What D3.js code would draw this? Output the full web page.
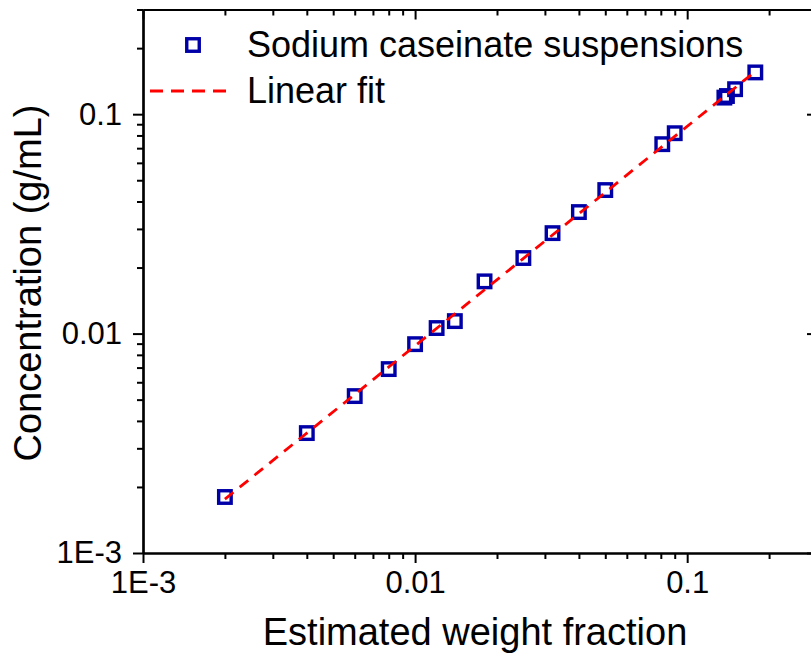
<!DOCTYPE html>
<html lang="en">
<head>
<meta charset="utf-8">
<title>Concentration vs weight fraction</title>
<script src="https://d3js.org/d3.v7.min.js"></script>
<style>
  body { margin: 0; background: #fff; }
  svg { display: block; font-family: Arial, "Liberation Sans", sans-serif; }
</style>
</head>
<body>
<div id="chart"></div>
<script>
// data
var weightFraction = [0.002, 0.004, 0.006, 0.008, 0.01, 0.012, 0.014, 0.018, 0.025, 0.032, 0.04, 0.05, 0.081, 0.09, 0.137, 0.140, 0.150, 0.178];
var concentration  = [0.0018, 0.00352, 0.00519, 0.00689, 0.00895, 0.0106, 0.0114, 0.0173, 0.0221, 0.0287, 0.0358, 0.0451, 0.073, 0.0819, 0.119, 0.121, 0.130, 0.155];
var fitSlope = 0.88;            // y = fitSlope * x
var fitRange = [0.002, 0.178];
var majorTicks = [0.001, 0.01, 0.1];
var majorLabels = ["1E-3", "0.01", "0.1"];
var seriesNames = ["Sodium caseinate suspensions", "Linear fit"];

var w = 811, h = 664;
var svg = d3.select("#chart").append("svg")
  .attr("width", w)
  .attr("height", h);

var x = d3.scaleLog().domain([0.001, 0.3]).range([143, 817]);
var y = d3.scaleLog().domain([0.001, 0.3]).range([553, 9.5]);

var minorX = x.ticks().filter(function(d) { return majorTicks.indexOf(+d.toPrecision(1)) < 0; });
var minorY = y.ticks().filter(function(d) { return majorTicks.indexOf(+d.toPrecision(1)) < 0; });
var fmt = function(d) { return majorLabels[majorTicks.indexOf(d)]; };

function styleAxis(g) {
  g.selectAll("path").attr("stroke", "#000").attr("stroke-width", 2.2);
  g.selectAll("line").attr("stroke", "#000").attr("stroke-width", 2);
  g.selectAll("text").attr("fill", "#000").style("font-size", "31px");
}

// bottom
svg.append("g").attr("transform", "translate(0," + y.range()[0] + ")")
  .call(d3.axisBottom(x).tickValues(minorX).tickSize(6).tickFormat("").tickSizeOuter(0)).call(styleAxis);
svg.append("g").attr("transform", "translate(0," + y.range()[0] + ")")
  .call(d3.axisBottom(x).tickValues(majorTicks).tickSize(10).tickFormat(fmt).tickPadding(8).tickSizeOuter(0)).call(styleAxis);
// top
svg.append("g").attr("transform", "translate(0," + y.range()[1] + ")")
  .call(d3.axisTop(x).tickValues(minorX).tickSize(-6).tickFormat("").tickSizeOuter(0)).call(styleAxis);
svg.append("g").attr("transform", "translate(0," + y.range()[1] + ")")
  .call(d3.axisTop(x).tickValues(majorTicks).tickSize(-10).tickFormat("").tickSizeOuter(0)).call(styleAxis);
// left
svg.append("g").attr("transform", "translate(" + x.range()[0] + ",0)")
  .call(d3.axisLeft(y).tickValues(minorY).tickSize(6).tickFormat("").tickSizeOuter(0)).call(styleAxis);
svg.append("g").attr("transform", "translate(" + x.range()[0] + ",0)")
  .call(d3.axisLeft(y).tickValues(majorTicks).tickSize(10).tickFormat(fmt).tickPadding(11).tickSizeOuter(0)).call(styleAxis);
// right
svg.append("g").attr("transform", "translate(" + x.range()[1] + ",0)")
  .call(d3.axisRight(y).tickValues(minorY).tickSize(-6).tickFormat("").tickSizeOuter(0)).call(styleAxis);
svg.append("g").attr("transform", "translate(" + x.range()[1] + ",0)")
  .call(d3.axisRight(y).tickValues(majorTicks).tickSize(-10).tickFormat("").tickSizeOuter(0)).call(styleAxis);

// points
var pts = weightFraction.map(function(d, i) { return [d, concentration[i]]; });
var sq = 12.5;
svg.selectAll(".pt")
  .data(pts)
  .enter().append("rect")
    .attr("class", "pt")
    .attr("x", function(d) { return x(d[0]) - sq / 2; })
    .attr("y", function(d) { return y(d[1]) - sq / 2; })
    .attr("width", sq)
    .attr("height", sq)
    .attr("fill", "none")
    .attr("stroke", "#0000a8")
    .attr("stroke-width", 3.4);

// fit line
svg.append("line")
  .attr("x1", x(fitRange[0])).attr("y1", y(fitSlope * fitRange[0]))
  .attr("x2", x(fitRange[1])).attr("y2", y(fitSlope * fitRange[1]))
  .attr("stroke", "#ff0000")
  .attr("stroke-width", 2.8)
  .attr("stroke-dasharray", "11,8");

// legend
svg.append("rect")
  .attr("x", 193 - sq / 2).attr("y", 45 - sq / 2)
  .attr("width", sq).attr("height", sq)
  .attr("fill", "none").attr("stroke", "#0000a8").attr("stroke-width", 3.4);
svg.append("text").text(seriesNames[0])
  .attr("x", 247).attr("y", 57).style("font-size", "36px");
svg.append("line")
  .attr("x1", 150).attr("x2", 234).attr("y1", 91).attr("y2", 91)
  .attr("stroke", "#ff0000").attr("stroke-width", 2.8).attr("stroke-dasharray", "13,8");
svg.append("text").text(seriesNames[1])
  .attr("x", 247).attr("y", 103).style("font-size", "36px");

// axis titles
svg.append("text").text("Estimated weight fraction")
  .attr("x", 475).attr("y", 645).attr("text-anchor", "middle").style("font-size", "38px");
svg.append("text").text("Concentration (g/mL)")
  .attr("transform", "translate(41,283) rotate(-90)")
  .attr("text-anchor", "middle").style("font-size", "38px");
</script>
</body>
</html>
